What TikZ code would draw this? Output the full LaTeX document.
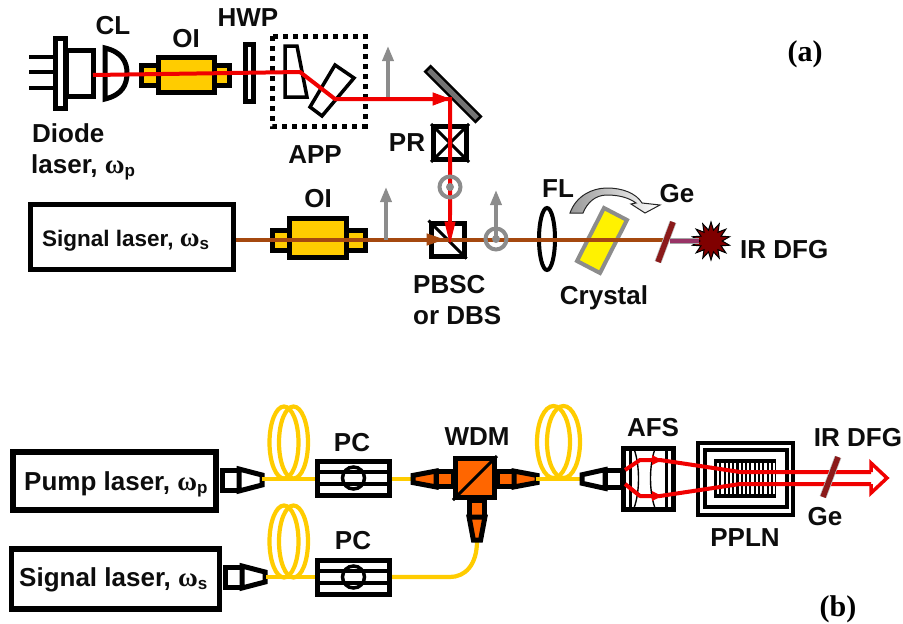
\documentclass[tikz,border=0pt]{standalone}
\usepackage{fontspec}
\setmainfont{Liberation Sans}
\newfontfamily\wfont{Liberation Serif}
\usetikzlibrary{arrows.meta,shapes.geometric,calc}
\definecolor{fibre}{HTML}{FFCC00}
\definecolor{orng}{HTML}{FF6600}
\definecolor{brwn}{HTML}{A5480F}
\definecolor{rbeam}{HTML}{F00000}
\definecolor{gearm}{HTML}{8B1A1A}
\definecolor{purp}{HTML}{993366}
\definecolor{stardark}{HTML}{800000}
\newcommand{\omg}[1]{{\wfont\fontsize{27}{28}\selectfont\symbol{"03C9}}\raisebox{-3pt}{\fontsize{17}{18}\selectfont\bfseries #1}}
\tikzset{
 x=1pt,y=-1pt,
 lbl/.style={font=\fontsize{26}{30}\selectfont\bfseries,inner sep=0,text=black!95},
 thick4/.style={draw=black,line width=5pt,line join=miter},
 laserbox/.style={draw=black,line width=5.5pt,fill=white,rectangle,inner sep=0},
 fib/.style={draw=fibre,line width=4.2pt},
 redb/.style={draw=rbeam,line width=4pt},
 brownb/.style={draw=brwn,line width=4pt},
 grayarrow/.style={draw=black!45,line width=3.5pt,-{Triangle[length=15pt,width=11pt]}},
 graycircle/.style={draw=black!45,line width=4pt,circle,minimum size=21pt,inner sep=0},
 gecore/.style={draw=gearm,line width=5.5pt},
}
\newcommand{\conn}[5]{% x,y,rotation,fill,transverse scale
 \begin{scope}[shift={(#1,#2)},rotate=#3,yscale=#5]
  \draw[thick4,fill=#4] (0,-10) rectangle (17,10);
  \draw[thick4,fill=#4] (17,-11) -- (40,-5) -- (40,5) -- (17,11) -- cycle;
 \end{scope}}
\newcommand{\coil}[4]{% x of left ellipse, sep, rx, y centre
 \draw[fib] (#1,#4) ellipse [x radius=#3,y radius=36];
 \draw[fib] (#1+#2,#4) ellipse [x radius=#3,y radius=36];}
\newcommand{\pcbox}[2]{% centre
 \draw[thick4,fill=white] (#1-36,#2-17) rectangle (#1+36,#2+17);
 \draw[black,line width=3.5pt] (#1-36,#2-6) -- (#1+36,#2-6) (#1-36,#2+6) -- (#1+36,#2+6);
 \draw[black,line width=3.5pt] (#1,#2) circle (11);}
\begin{document}
\begin{tikzpicture}
\useasboundingbox (0,0) rectangle (903,624);
%%%% (a)
\draw[black,line width=3.5pt] (29,57) -- (56,57) (29,72) -- (56,72) (29,88) -- (56,88);
\draw[thick4,fill=white] (66,50) rectangle (93,96);
\draw[thick4,fill=white] (55,38) rectangle (65,108);
\draw[thick4,fill=white] (105,48) .. controls (122,52) and (127,62) .. (127,73) .. controls (127,85) and (122,95) .. (105,99) -- cycle;
\draw[thick4,fill=fibre] (141,65) rectangle (229,85);
\draw[thick4,fill=fibre] (158,57) rectangle (214,92);
\draw[thick4,fill=white] (245,44) rectangle (253,101);
\draw[black,line width=5pt,dash pattern=on 5pt off 5pt] (272,36) rectangle (365,126);
\draw[black,line width=3.5pt,fill=white] (285,46) -- (297,46) -- (307,97) -- (285,97) -- cycle;
\draw[black,line width=3.5pt,fill=white] (335,65) -- (354,78) -- (322,116) -- (310,107) -- cycle;
\coordinate (ga1) at (388,98); \coordinate (ga1t) at (388,46);
\draw[black,line width=10pt] (427,68) -- (479,120);
\draw[black!55,line width=5pt] (429,70) -- (477,118);
\node[draw=black,line width=5pt,fill=white,minimum size=33pt,inner sep=0] (pr) at (450,143) {};
\draw[black,line width=3pt] (pr.north west) -- (pr.south east) (pr.north east) -- (pr.south west);
\coordinate (ra) at (93,75); \coordinate (rb) at (300,72); \coordinate (rc) at (335,99); \coordinate (rd) at (450,99);
\coordinate (rd3) at (449,99);
\coordinate (re2) at (450,215); \coordinate (re3) at (450,242);
\draw[grayarrow] (ga1) -- (ga1t);
\draw[redb] (ra) -- (rb) -- (rc) -- (rd) -- (re2);
\draw[draw=rbeam,line width=1pt,fill=rbeam] (rd3) -- (433,93) -- (433,105) -- cycle;
\node[laserbox,minimum width=203pt,minimum height=65pt] (siga) at (132,237) {};
\node[lbl,anchor=west,font=\fontsize{22.5}{26}\selectfont\bfseries] (sigatxt) at (42,241) {Signal laser, \omg{s}};
\draw[thick4,fill=fibre] (272,230) rectangle (365,250);
\draw[thick4,fill=fibre] (289,218) rectangle (346,257);
\node[draw=black,line width=5pt,fill=white,minimum size=33pt,inner sep=0] (pbsc) at (447.5,239.5) {};
\draw[black,line width=3pt] (pbsc.north west) -- (pbsc.south east);
\draw[black,line width=4pt] (547,239) ellipse [x radius=8,y radius=31];
\draw[draw=black!45,line width=4pt,fill=yellow] (604,208) -- (627,220) -- (600,273) -- (577,261) -- cycle;
\coordinate (bb) at (666,240);
\draw[brownb] (siga.east |- bb) -- (bb);
\draw[brwn,fill=brwn,line width=1pt] (443,239.5) -- (427,234) -- (427,245) -- cycle;
\draw[draw=rbeam,line width=4pt] (re2) -- (450,230);
\draw[draw=rbeam,line width=1pt,fill=rbeam] (re3) -- (445,222) -- (455,222) -- cycle;
\draw[grayarrow] (386,240) -- (386,187);
\draw[grayarrow] (496,239) -- (496,190);
\node[graycircle] (gc1) at (450,187) {};
\node[graycircle] (gc2) at (496,239) {};
\fill[black!45] (450,187) circle (4);
\fill[black!45] (496,239) circle (4);
\draw[draw=black!85,line width=1pt,left color=black!40,right color=white]
 (570,213) .. controls (576,196) and (592,188) .. (607,188) .. controls (622,188) and (636,193) .. (642,203) -- (660,205) -- (645,213) -- (631,204) -- (636,203) .. controls (628,197) and (617,195) .. (607,195) .. controls (595,195) and (587,203) .. (583,213) -- cycle;
\coordinate (gea1) at (673,222); \coordinate (gea2) at (658,262);
\draw[black!25,line width=7pt] (gea1) -- (gea2);
\draw[gecore] (gea1) -- (gea2);
\node[star,star points=14,star point ratio=1.7,minimum size=38pt,inner sep=0,draw=black,line width=1pt,fill=stardark] (dfg) at (711,241) {};
\draw[black!35,line width=6pt] (670,241) -- (dfg.west);
\draw[draw=purp,line width=3.5pt] (670,241) -- (dfg.west);
%%%% (b)
\node[laserbox,minimum width=203pt,minimum height=58pt] (pump) at (114.5,481) {};
\node[lbl,anchor=west] (pumptxt) at (24,484) {Pump laser, \omg{p}};
\node[laserbox,minimum width=208pt,minimum height=60pt] (sigb) at (115.5,579) {};
\node[lbl,anchor=west] (sigbtxt) at (19,580) {Signal laser, \omg{s}};
\conn{222}{480}{0}{white}{1}
\conn{225}{577}{0}{white}{1}
\coil{284}{9.5}{14.5}{442.5}
\coil{284}{9.5}{14.5}{541.5}
\coordinate (f1) at (262,479); \coordinate (f2) at (316,479);
\coordinate (f3) at (266,577); \coordinate (f4) at (316,577);
\draw[fib] (f1) -- (f2) (f3) -- (f4);
\pcbox{353.5}{478}
\pcbox{353.5}{577}
\coordinate (f5) at (392,479); \coordinate (f6) at (414,479);
\draw[fib] (f5) -- (f6);
\coordinate (f7) at (392,577); \coordinate (f8) at (477,541);
\draw[fib] (f7) -- (450,577) .. controls (465,577) and (477,565) .. (f8);
\conn{453}{479}{180}{orng}{0.72}
\conn{497}{479}{0}{orng}{0.72}
\conn{477}{500}{-90}{orng}{0.72}
\node[draw=black,line width=5pt,fill=orng,minimum size=39pt,inner sep=0] (wdm) at (475,478) {};
\draw[black,line width=3pt] (wdm.south west) -- (wdm.north east);
\coil{553.5}{10}{16.5}{442}
\draw[fib] (536,479) -- (583,479);
\conn{622}{479}{180}{white}{0.85}
\draw[thick4,fill=white] (623.5,448) rectangle (673.5,509);
\draw[black,line width=3pt] (630,448) -- (630,509) (666,448) -- (666,509);
\draw[black,line width=1.4pt] (634,449) .. controls (640,465) and (640,492) .. (634,508);
\draw[black,line width=1.4pt] (655,449) .. controls (649,465) and (649,492) .. (655,508);
\draw[black,line width=3.5pt,fill=white] (698,443) rectangle (793,515);
\draw[black,line width=3.5pt] (705,450) rectangle (787,507);
\fill[black] (714,459) rectangle (776,498);
\foreach \i in {0,...,13} {\fill[white] ({717+\i*4.3},463) rectangle ({719.2+\i*4.3},494);}
\coordinate (ra1) at (625,470); \coordinate (ra2) at (640,460); \coordinate (ra3) at (660,460); \coordinate (ra4) at (740,472); \coordinate (ra5) at (871,472);
\coordinate (rb1) at (625,484); \coordinate (rb2) at (640,496); \coordinate (rb3) at (660,496); \coordinate (rb4) at (740,484); \coordinate (rb5) at (871,484);
\draw[rbeam,line width=4pt,line join=round] (ra1) -- (ra2) -- (ra3) -- (ra4) -- (ra5);
\draw[rbeam,line width=4pt,line join=round] (rb1) -- (rb2) -- (rb3) -- (rb4) -- (rb5);
\fill[rbeam] (662,460) -- (652,455) -- (652,465) -- cycle;
\fill[rbeam] (662,496) -- (652,491) -- (652,501) -- cycle;
\draw[rbeam,line width=3.5pt,miter limit=10] (ra5) -- (871,463) -- (887,478) -- (871,493) -- (rb5);
\coordinate (geb1) at (838,457); \coordinate (geb2) at (823,497);
\draw[black!25,line width=7pt] (geb1) -- (geb2);
\draw[gecore] (geb1) -- (geb2);
%%%% labels
\node[lbl] (lCL) at (113,26) {CL};
\node[lbl] (lOI) at (186,39) {OI};
\node[lbl] (lHWP) at (248,18) {HWP};
\node[lbl,anchor=west] (lD) at (32,133) {Diode};
\node[lbl,anchor=west] (lL) at (31,167) {laser, \omg{p}};
\node[lbl] (lAPP) at (315,155) {APP};
\node[lbl] (lPR) at (407,143) {PR};
\node[lbl] (lOI2) at (318,199) {OI};
\node[lbl,anchor=west] (lP) at (413,285) {PBSC};
\node[lbl,anchor=west] (lO) at (413,316) {or DBS};
\node[lbl] (lFL) at (558,189) {FL};
\node[lbl] (lGe) at (677,194) {Ge};
\node[lbl] (lC) at (604,298) {Crystal};
\node[lbl,anchor=west] (lIR) at (740,250) {IR DFG};
\node[font=\wfont\fontsize{30}{32}\selectfont\bfseries,inner sep=0] (la) at (805,54) {(a)};
\node[lbl] (lPC1) at (352,443) {PC};
\node[lbl] (lPC2) at (353,541) {PC};
\node[lbl] (lW) at (477,437) {WDM};
\node[lbl] (lA) at (653,428) {AFS};
\node[lbl] (lPP) at (745,538) {PPLN};
\node[lbl] (lIR2) at (858,438) {IR DFG};
\node[lbl] (lGe2) at (825,517) {Ge};
\node[font=\wfont\fontsize{30}{32}\selectfont\bfseries,inner sep=0] (lb) at (838,609) {(b)};
\end{tikzpicture}
\end{document}
